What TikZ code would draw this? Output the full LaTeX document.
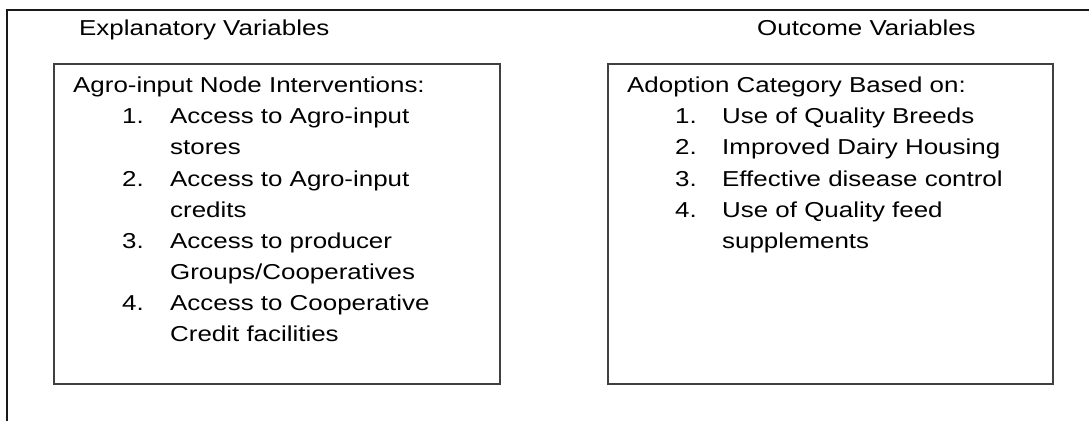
\documentclass[tikz,border=0pt]{standalone}
\usepackage{fontspec}
\setmainfont[FakeStretch=1.2]{Liberation Sans}
\begin{document}
\begin{tikzpicture}[x=1pt,y=1pt,
  txt/.style={anchor=base west,inner sep=0pt,font=\fontsize{21.6}{31}\selectfont,text=black},
  box/.style={draw=black!75,line width=1.6pt,anchor=north west,inner sep=0pt,minimum width=446pt,minimum height=320pt},
  frame/.style={draw=black!90,line width=1.5pt}]
\useasboundingbox (0,0) rectangle (1089,421);
% outer frame (left and top)
\coordinate (fb) at (7,0);
\coordinate (fc) at (7,411);
\coordinate (fr) at (1089,411);
\draw[frame] (fb) -- (fc) -- (fr);
% boxes
\node[box] (lbox) at (53,358) {};
\node[box,minimum width=445pt] (rbox) at (607,358) {};
% titles
\node[txt] (ltitle) at (79,385) {Explanatory Variables};
\node[txt] (rtitle) at (757,385) {Outcome Variables};
% left content
\node[txt] (lhead) at (73,328) {Agro-input Node Interventions:};
\node[txt] (ln1) at (122,297) {1.};
\node[txt] (li1a) at (170,297) {Access to Agro-input};
\node[txt] (li1b) at (170,266) {stores};
\node[txt] (ln2) at (122,235) {2.};
\node[txt] (li2a) at (170,235) {Access to Agro-input};
\node[txt] (li2b) at (170,204) {credits};
\node[txt] (ln3) at (122,173) {3.};
\node[txt] (li3a) at (170,173) {Access to producer};
\node[txt] (li3b) at (170,142) {Groups/Cooperatives};
\node[txt] (ln4) at (122,111) {4.};
\node[txt] (li4a) at (170,111) {Access to Cooperative};
\node[txt] (li4b) at (170,80) {Credit facilities};
% right content
\node[txt] (rhead) at (627,328) {Adoption Category Based on:};
\node[txt] (rn1) at (675,297) {1.};
\node[txt] (ri1) at (722,297) {Use of Quality Breeds};
\node[txt] (rn2) at (675,266) {2.};
\node[txt] (ri2) at (722,266) {Improved Dairy Housing};
\node[txt] (rn3) at (675,235) {3.};
\node[txt] (ri3) at (722,235) {Effective disease control};
\node[txt] (rn4) at (675,204) {4.};
\node[txt] (ri4a) at (722,204) {Use of Quality feed};
\node[txt] (ri4b) at (722,173) {supplements};
\end{tikzpicture}
\end{document}
